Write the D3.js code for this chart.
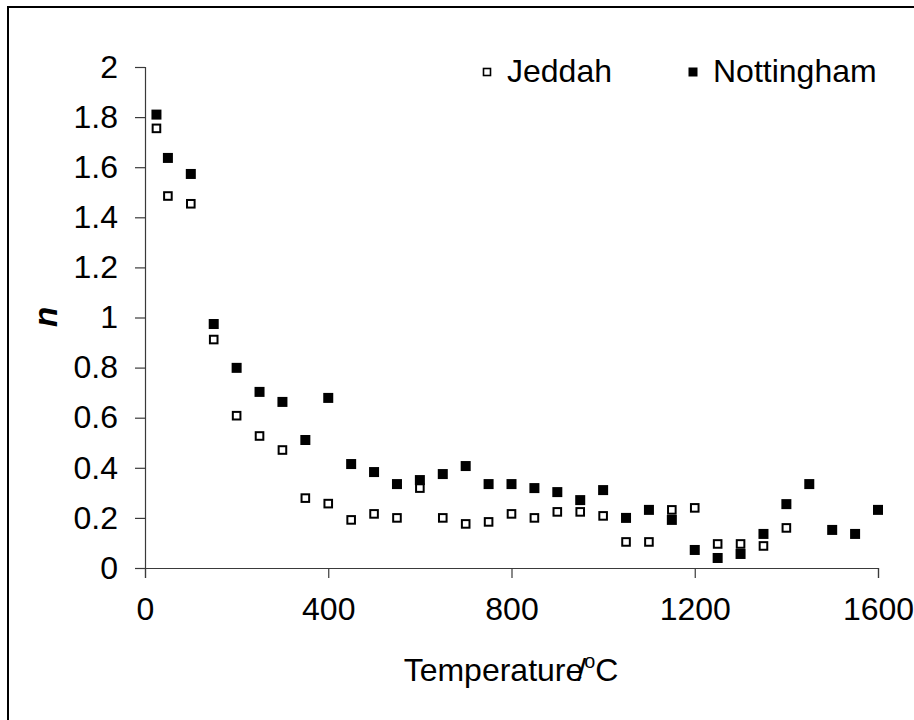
<!DOCTYPE html>
<html>
<head>
<meta charset="utf-8">
<script src="https://cdn.jsdelivr.net/npm/d3@7"></script>
<style>
  html, body { margin: 0; padding: 0; background: #fff; }
  svg { display: block; font-family: "Liberation Sans", Arial, sans-serif; }
</style>
</head>
<body>
<svg id="chart" width="914" height="720"></svg>
<script>
// ---- data ----
const temperatures = [25, 50, 100, 150, 200, 250, 300, 350, 400, 450, 500, 550, 600, 650, 700, 750, 800,
  850, 900, 950, 1000, 1050, 1100, 1150, 1200, 1250, 1300, 1350, 1400, 1450, 1500, 1550, 1600];
const jeddah = [1.755, 1.485, 1.454, 0.912, 0.608, 0.527, 0.471, 0.279, 0.257, 0.192, 0.216, 0.200, 0.319,
  0.200, 0.176, 0.184, 0.216, 0.200, 0.224, 0.224, 0.208, 0.104, 0.104, 0.232, 0.240, 0.096, 0.096, 0.088, 0.160];
const nottingham = [1.810, 1.637, 1.573, 0.974, 0.799, 0.703, 0.663, 0.511, 0.679, 0.415, 0.383, 0.335, 0.351,
  0.375, 0.407, 0.335, 0.335, 0.319, 0.303, 0.271, 0.311, 0.200, 0.232, 0.192, 0.072, 0.040, 0.056, 0.136,
  0.255, 0.335, 0.152, 0.136, 0.232];
const xTicks = [0, 400, 800, 1200, 1600];
const yTicks = [0, 0.2, 0.4, 0.6, 0.8, 1, 1.2, 1.4, 1.6, 1.8, 2];
const seriesNames = ["Jeddah", "Nottingham"];

// ---- layout ----
const svg = d3.select("#chart");
const x = d3.scaleLinear().domain([0, 1600]).range([145, 878]);
const y = d3.scaleLinear().domain([0, 2]).range([568, 67]);
const fontSize = 32;
const axisColor = "#3a3a3a";

// outer frame (right and bottom edges fall outside the picture)
svg.append("rect")
  .attr("x", 8).attr("y", 7).attr("width", 960).attr("height", 760)
  .attr("fill", "none").attr("stroke", "#000").attr("stroke-width", 2);

// y axis
const yAxis = d3.axisLeft(y).tickValues(yTicks).tickSize(10).tickPadding(17)
  .tickFormat(d => d3.format("")(+d.toFixed(1)));
const gy = svg.append("g").attr("transform", `translate(${x(0)},0)`).call(yAxis);
gy.select(".domain").attr("stroke", axisColor).attr("stroke-width", 1.2);
gy.selectAll(".tick line").attr("stroke", axisColor).attr("stroke-width", 1.2);
gy.selectAll(".tick text").attr("font-size", fontSize).attr("fill", "#000")
  .attr("font-family", "Liberation Sans, Arial, sans-serif");

// x axis
const xAxis = d3.axisBottom(x).tickValues(xTicks).tickSize(10).tickPadding(19)
  .tickFormat(d3.format("d"));
const gx = svg.append("g").attr("transform", `translate(0,${y(0)})`).call(xAxis);
gx.select(".domain").attr("stroke", axisColor).attr("stroke-width", 1.2);
gx.selectAll(".tick line").attr("stroke", axisColor).attr("stroke-width", 1.2);
gx.selectAll(".tick text").attr("font-size", fontSize).attr("fill", "#000")
  .attr("font-family", "Liberation Sans, Arial, sans-serif");

// x axis title
const xt = svg.append("text")
  .attr("x", 511).attr("y", 681)
  .attr("text-anchor", "middle").attr("font-size", fontSize).attr("fill", "#000");
xt.append("tspan").text("Temperature");
xt.append("tspan").attr("dx", -6).text("/");
xt.append("tspan").attr("font-size", fontSize * 0.62).attr("dx", -2).attr("dy", -13).text("o");
xt.append("tspan").attr("dy", 13).text("C");

// y axis title
svg.append("text")
  .attr("transform", "translate(57,317) rotate(-90)")
  .attr("text-anchor", "middle")
  .attr("font-size", 33).attr("font-weight", "bold").attr("font-style", "italic")
  .attr("fill", "#000").text("n");

// series
const nottData = temperatures.map((t, i) => ({ t, v: nottingham[i] }));
const jedData = temperatures.slice(0, jeddah.length).map((t, i) => ({ t, v: jeddah[i] }));

const fs = 10;
svg.append("g").selectAll("rect").data(nottData).join("rect")
  .attr("x", d => x(d.t) - fs / 2).attr("y", d => y(d.v) - fs / 2)
  .attr("width", fs).attr("height", fs).attr("fill", "#000");

const os = 7.6;
svg.append("g").selectAll("rect").data(jedData).join("rect")
  .attr("x", d => x(d.t) - os / 2).attr("y", d => y(d.v) - os / 2)
  .attr("width", os).attr("height", os)
  .attr("fill", "#fff").attr("stroke", "#000").attr("stroke-width", 2);

// legend
const legend = [
  { name: seriesNames[0], mx: 487, tx: 507, open: true },
  { name: seriesNames[1], mx: 693, tx: 713, open: false }
];
legend.forEach(l => {
  if (l.open) {
    svg.append("rect").attr("x", l.mx - 3.5).attr("y", 72 - 3.5).attr("width", 7).attr("height", 7)
      .attr("fill", "#fff").attr("stroke", "#000").attr("stroke-width", 1.6);
  } else {
    svg.append("rect").attr("x", l.mx - 4.5).attr("y", 72 - 4.5).attr("width", 9).attr("height", 9)
      .attr("fill", "#000");
  }
  svg.append("text").attr("x", l.tx).attr("y", 82).attr("font-size", fontSize)
    .attr("fill", "#000").text(l.name);
});
</script>
</body>
</html>
